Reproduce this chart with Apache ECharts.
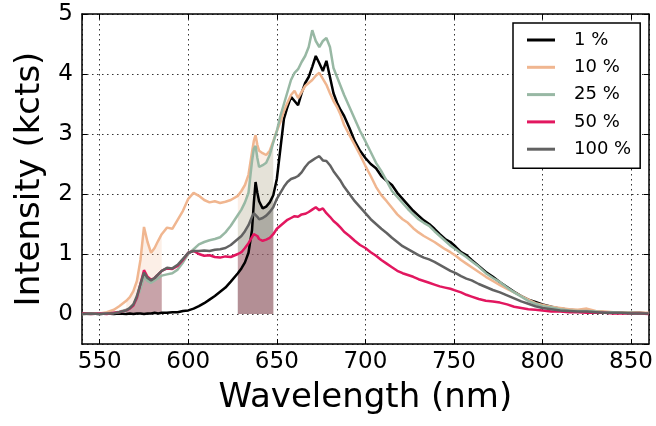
<!DOCTYPE html>
<html lang="en">
<head>
    <meta charset="UTF-8">
    <title>Intensity vs wavelength</title>
    <script src="https://cdn.jsdelivr.net/npm/echarts@6.0.0/dist/echarts.min.js"></script>
    <style>
        body { margin: 0; background: #fff; }
    </style>
</head>
<body>
    <div id="main" style="width: 656px; height: 426px;"></div>

    <script>
        // wavelength grid (nm)
        var wavelength = [540, 545, 550, 554, 558, 561, 565, 567, 569, 571,
            573, 575, 577, 579, 581, 583, 585, 588, 591, 594,
            597, 600, 603, 606, 609, 612, 615, 618, 621, 624,
            628, 630, 632, 634, 636, 637, 638, 639, 640, 642,
            644, 646, 648, 650, 652, 654, 656, 658, 660, 662,
            664, 666, 668, 670, 672, 674, 676, 678, 680, 682,
            684, 686, 688, 691, 694, 697, 700, 703, 706, 709,
            712, 715, 718, 721, 724, 727, 730, 733, 736, 739,
            742, 745, 748, 751, 754, 757, 760, 764, 768, 772,
            776, 780, 784, 788, 792, 796, 800, 805, 810, 815,
            820, 825, 830, 835, 840, 845, 850, 855, 860];

        // intensity (kcts) per power level
        var p1 = [0.01, 0.01, 0.0, 0.01, 0.0, 0.01, 0.0, 0.01, 0.0, 0.01,
            0.01, 0.0, 0.01, 0.01, 0.02, 0.01, 0.02, 0.02, 0.03, 0.03,
            0.05, 0.06, 0.09, 0.13, 0.18, 0.24, 0.3, 0.37, 0.44, 0.54,
            0.68, 0.76, 0.86, 1.02, 1.4, 1.85, 2.2, 2.02, 1.88, 1.76,
            1.79, 1.86, 1.98, 2.25, 2.75, 3.25, 3.45, 3.62, 3.55, 3.48,
            3.68, 3.85, 3.95, 4.12, 4.3, 4.18, 4.05, 4.22, 3.95, 3.68,
            3.52, 3.4, 3.3, 3.1, 2.88, 2.72, 2.6, 2.5, 2.43, 2.3,
            2.22, 2.15, 2.02, 1.92, 1.82, 1.72, 1.64, 1.56, 1.5, 1.42,
            1.33, 1.25, 1.2, 1.12, 1.03, 0.98, 0.9, 0.8, 0.7, 0.62,
            0.53, 0.45, 0.37, 0.3, 0.24, 0.2, 0.16, 0.12, 0.09, 0.07,
            0.06, 0.05, 0.04, 0.03, 0.03, 0.02, 0.02, 0.02, 0.01];

        var p10 = [0.0, 0.01, 0.01, 0.03, 0.07, 0.13, 0.22, 0.28, 0.38, 0.55,
            0.9, 1.45, 1.2, 1.02, 1.1, 1.22, 1.33, 1.44, 1.42, 1.57,
            1.72, 1.92, 2.02, 1.97, 1.9, 1.86, 1.88, 1.85, 1.87, 1.9,
            1.97, 2.05, 2.15, 2.32, 2.7, 2.88, 2.98, 2.82, 2.72, 2.68,
            2.65, 2.72, 2.88, 3.05, 3.2, 3.38, 3.52, 3.65, 3.72, 3.6,
            3.7, 3.8, 3.85, 3.9, 3.97, 4.02, 3.92, 3.82, 3.68, 3.55,
            3.45, 3.32, 3.15, 2.98, 2.82, 2.65, 2.47, 2.3, 2.12, 1.98,
            1.88, 1.77, 1.66, 1.58, 1.52, 1.43, 1.36, 1.3, 1.25, 1.2,
            1.14, 1.08, 1.03, 0.97, 0.9, 0.84, 0.78, 0.7, 0.62, 0.55,
            0.48, 0.42, 0.36, 0.3, 0.24, 0.18, 0.15, 0.12, 0.1, 0.08,
            0.07, 0.09, 0.05, 0.04, 0.03, 0.03, 0.02, 0.02, 0.02];

        var p25 = [0.0, 0.0, 0.01, 0.01, 0.02, 0.04, 0.07, 0.1, 0.15, 0.25,
            0.42, 0.62, 0.55, 0.52, 0.56, 0.6, 0.64, 0.66, 0.68, 0.74,
            0.86, 1.0, 1.08, 1.16, 1.2, 1.23, 1.25, 1.28, 1.36, 1.47,
            1.65, 1.74, 1.86, 2.02, 2.55, 2.75, 2.8, 2.6, 2.45, 2.48,
            2.52, 2.65, 2.86, 3.05, 3.3, 3.5, 3.7, 3.9, 4.02, 4.08,
            4.2, 4.3, 4.45, 4.73, 4.55, 4.45, 4.55, 4.6, 4.45, 4.1,
            3.95, 3.8, 3.65, 3.45, 3.25, 3.05, 2.88, 2.7, 2.52, 2.38,
            2.22, 2.05, 1.95, 1.85, 1.75, 1.66, 1.58, 1.52, 1.47, 1.38,
            1.3, 1.22, 1.14, 1.08, 1.01, 0.95, 0.88, 0.79, 0.68, 0.6,
            0.53, 0.44, 0.36, 0.29, 0.22, 0.17, 0.13, 0.11, 0.08, 0.06,
            0.05, 0.05, 0.04, 0.03, 0.03, 0.02, 0.02, 0.01, 0.01];

        var p50 = [0.01, 0.0, 0.01, 0.0, 0.02, 0.03, 0.06, 0.09, 0.14, 0.27,
            0.5, 0.73, 0.62, 0.57, 0.6, 0.66, 0.72, 0.76, 0.75, 0.8,
            0.9, 1.02, 1.05, 1.0, 0.97, 0.98, 0.95, 0.94, 0.96, 0.95,
            1.0, 1.03, 1.1, 1.18, 1.28, 1.33, 1.36, 1.3, 1.25, 1.22,
            1.24, 1.27, 1.33, 1.42, 1.47, 1.52, 1.57, 1.6, 1.63, 1.62,
            1.66, 1.67, 1.7, 1.74, 1.78, 1.73, 1.76, 1.68, 1.62, 1.55,
            1.5, 1.44, 1.37, 1.3, 1.22, 1.15, 1.1, 1.03, 0.97, 0.9,
            0.84, 0.78, 0.72, 0.68, 0.65, 0.62, 0.58, 0.55, 0.52, 0.49,
            0.46, 0.44, 0.42, 0.39, 0.36, 0.32, 0.29, 0.25, 0.22, 0.21,
            0.19, 0.16, 0.12, 0.1, 0.08, 0.07, 0.06, 0.04, 0.04, 0.03,
            0.03, 0.02, 0.02, 0.02, 0.01, 0.01, 0.01, 0.01, 0.0];

        var p100 = [0.0, 0.01, 0.0, 0.01, 0.01, 0.03, 0.06, 0.1, 0.16, 0.3,
            0.5, 0.69, 0.6, 0.56, 0.6, 0.66, 0.72, 0.77, 0.76, 0.82,
            0.92, 1.02, 1.05, 1.05, 1.06, 1.05, 1.07, 1.08, 1.1, 1.15,
            1.25, 1.3, 1.38, 1.48, 1.62, 1.68, 1.7, 1.62, 1.58, 1.6,
            1.64, 1.7, 1.78, 1.92, 2.02, 2.12, 2.2, 2.25, 2.27, 2.3,
            2.36, 2.45, 2.52, 2.56, 2.6, 2.63, 2.56, 2.55, 2.48, 2.38,
            2.3, 2.22, 2.12, 2.0, 1.88, 1.78, 1.68, 1.58, 1.5, 1.42,
            1.35, 1.27, 1.2, 1.13, 1.08, 1.03, 0.98, 0.94, 0.91, 0.87,
            0.82, 0.77, 0.72, 0.68, 0.63, 0.59, 0.56, 0.5, 0.45, 0.4,
            0.36, 0.31, 0.26, 0.21, 0.17, 0.13, 0.1, 0.08, 0.06, 0.05,
            0.04, 0.04, 0.03, 0.02, 0.02, 0.02, 0.01, 0.01, 0.01];

        var names = ['1 %', '10 %', '25 %', '50 %', '100 %'];
        var colors = ['#000000', '#f0b690', '#98b8a4', '#e2175f', '#626262'];
        var values = [p1, p10, p25, p50, p100];

        // shaded wavelength windows
        var bands = [[565, 585], [628, 648]];

        var chartDom = document.getElementById('main');
        var myChart = echarts.init(chartDom);

        var font = 'DejaVu Sans';
        var series = [];

        values.forEach(function (vals, k) {
            bands.forEach(function (b) {
                var pts = [];
                wavelength.forEach(function (w, i) {
                    if (w >= b[0] && w <= b[1]) pts.push([w, vals[i]]);
                });
                series.push({
                    type: 'line',
                    data: pts,
                    showSymbol: false,
                    silent: true,
                    z: 1,
                    lineStyle: { width: 0 },
                    areaStyle: { color: colors[k], opacity: 0.22, origin: 0 }
                });
            });
        });

        values.forEach(function (vals, k) {
            series.push({
                name: names[k],
                type: 'line',
                data: wavelength.map(function (w, i) { return [w, vals[i]]; }),
                showSymbol: false,
                z: 3,
                color: colors[k],
                lineStyle: { color: colors[k], width: 2.5 }
            });
        });

        var gridLine = { show: true, lineStyle: { color: '#333', width: 1, type: [1.5, 3.5] } };
        var frame = { show: true, onZero: false, lineStyle: { color: '#000', width: 1.5 } };
        var ticks = { show: true, inside: true, length: 5, lineStyle: { color: '#000' } };

        var option = {
            animation: false,
            backgroundColor: '#fff',
            grid: { left: 82, right: 6, top: 14, bottom: 82 },
            legend: {
                data: names,
                orient: 'vertical',
                left: 513,
                top: 23,
                padding: [8, 9, 10, 14],
                itemGap: 9.3,
                itemWidth: 28,
                itemHeight: 3,
                icon: 'rect',
                borderColor: '#000',
                borderWidth: 1.5,
                backgroundColor: '#fff',
                textStyle: { fontFamily: font, fontSize: 18, color: '#000', lineHeight: 18, padding: [0, 0, 0, 14] }
            },
            xAxis: [{
                type: 'value',
                min: 540,
                max: 860,
                splitNumber: 6,
                name: 'Wavelength (nm)',
                nameLocation: 'middle',
                nameGap: 37,
                nameTextStyle: { fontFamily: font, fontSize: 34, color: '#000' },
                axisLine: frame,
                axisTick: ticks,
                axisLabel: { fontFamily: font, fontSize: 23, color: '#000', margin: 7, showMinLabel: false, showMaxLabel: false },
                splitLine: gridLine
            }, {
                type: 'value',
                position: 'top',
                min: 540,
                max: 860,
                splitNumber: 6,
                axisLine: frame,
                axisTick: ticks,
                axisLabel: { show: false },
                splitLine: { show: false }
            }],
            yAxis: [{
                type: 'value',
                min: -0.5,
                max: 5,
                splitNumber: 5,
                name: 'Intensity (kcts)',
                nameLocation: 'middle',
                nameGap: 34,
                nameTextStyle: { fontFamily: font, fontSize: 34, color: '#000' },
                axisLine: frame,
                axisTick: ticks,
                axisLabel: { fontFamily: font, fontSize: 23, color: '#000', margin: 9, showMinLabel: false },
                splitLine: gridLine
            }, {
                type: 'value',
                position: 'right',
                min: -0.5,
                max: 5,
                splitNumber: 5,
                axisLine: frame,
                axisTick: ticks,
                axisLabel: { show: false },
                splitLine: { show: false }
            }],
            series: series
        };

        myChart.setOption(option);
    </script>
</body>
</html>
